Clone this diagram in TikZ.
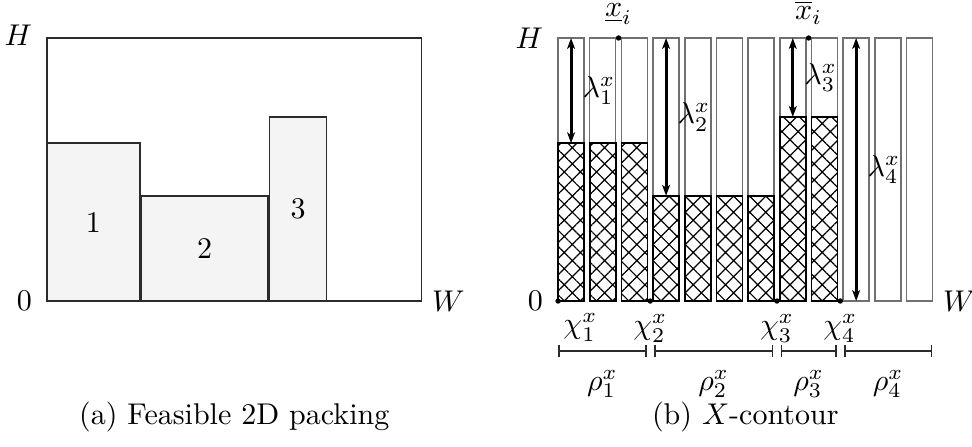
\documentclass[tikz,border=0pt]{standalone}
\usepackage{amsmath,amssymb}
\usetikzlibrary{arrows.meta,patterns.meta,positioning}
\definecolor{pkInk}{HTML}{2B2B2B}
\definecolor{pkFill}{HTML}{F4F4F4}
\definecolor{pkMid}{HTML}{707070}
\tikzset{
 packing/.style={line join=miter,text=black},
 binbox/.style={draw=pkInk,line width=.6pt},
 itembox/.style={draw=pkInk,fill=pkFill,line width=.6pt},
 colbox/.style={draw=pkMid,line width=.5pt},
 hatchbox/.style={draw=black,line width=.6pt,pattern={Hatch[angle=45,distance=3.8pt,line width=.4pt]}},
 gaparrow/.style={draw=black,line width=1pt,arrows={Stealth[length=3.6pt,width=2.6pt,inset=.9pt]-Stealth[length=3.6pt,width=2.6pt,inset=.9pt]}},
 rangebar/.style={draw=pkInk,line width=.6pt,arrows={Bar[width=4pt]-Bar[width=4pt]}},
 dotnode/.style={circle,fill=black,inner sep=0pt,minimum size=1.8pt},
 captext/.style={anchor=base}
}

\begin{document}
\begin{tikzpicture}[packing,x=10.4pt,y=8.7667pt]
 \useasboundingbox (-1.506,-5.513) rectangle (29.647,11.445);
 % (a) feasible packing
 \begin{scope}
  \draw[itembox] (0,0) rectangle (2.97,6);
  \draw[itembox] (3.01,0) rectangle (7.09,4);
  \draw[itembox] (7.13,0) rectangle (8.96,7);
  \draw[binbox] (0,0) rectangle (12,10);
  \node (it1) at (1.485,3) {1};
  \node (it2) at (5.05,2) {2};
  \node (it3) at (8.045,3.5) {3};
  \node[left=1.5pt,yshift=1pt] (aH) at (0,10) {$H$};
  \node[left=1.5pt] (a0) at (0,0) {$0$};
  \node[right] (aW) at (12,0) {$W$};
  \node[captext] (capa) at (6,-4.71) {(a) Feasible 2D packing};
 \end{scope}
 % (b) X-contour
 \begin{scope}[shift={(16.38,0)}]
  \foreach \h [count=\i from 0] in {6,6,6,4,4,4,4,7,7,0,0,0}{
   \pgfmathsetmacro\xl{1.0152*\i}
   \draw[colbox] (\xl,0) rectangle ++(.833,10);
   \ifnum\h>0 \draw[hatchbox] (\xl,0) rectangle ++(.833,\h); \fi
   \coordinate (top\i) at (\xl+.4165,10);
   \coordinate (low\i) at (\xl+.4165,\h);
  }
  \draw[gaparrow] (top0) -- (low0) node[midway,right] (lam1) {$\lambda^x_1$};
  \draw[gaparrow] (top3) -- (low3) node[midway,right] (lam2) {$\lambda^x_2$};
  \draw[gaparrow] (top7) -- (low7) node[midway,right] (lam3) {$\lambda^x_3$};
  \draw[gaparrow] (top9) -- (low9) node[midway,right] (lam4) {$\lambda^x_4$};
  \node[dotnode] (xlo) at (1.9393,10) {};
  \node[dotnode] (xhi) at (8.0305,10) {};
  \node[above=0pt of xlo] (xlolab) {$\underline{x}_i$};
  \node[above=0pt of xhi] (xhilab) {$\overline{x}_i$};
  \node[dotnode] (chi1) at (0,0) {};
  \node[dotnode] (chi2) at (2.9545,0) {};
  \node[dotnode] (chi3) at (7.0153,0) {};
  \node[dotnode] (chi4) at (9.0457,0) {};
  \node[below right=0pt and -2.5pt of chi1] (chi1lab) {$\chi^x_1$};
  \node[below=0pt of chi2] (chi2lab) {$\chi^x_2$};
  \node[below=0pt of chi3] (chi3lab) {$\chi^x_3$};
  \node[below=0pt of chi4] (chi4lab) {$\chi^x_4$};
  \coordinate (e0) at (0,-1.89);
  \coordinate (e1) at (2.9545,-1.89);
  \coordinate (e2) at (7.0153,-1.89);
  \coordinate (e3) at (9.0457,-1.89);
  \coordinate (e4) at (12,-1.89);
  \draw[rangebar] (e0) -- ([xshift=-1.2pt]e1) node[midway,below=3pt] (rho1) {$\rho^x_1$};
  \draw[rangebar] ([xshift=1.2pt]e1) -- ([xshift=-1.2pt]e2) node[midway,below=3pt] (rho2) {$\rho^x_2$};
  \draw[rangebar] ([xshift=1.2pt]e2) -- ([xshift=-1.2pt]e3) node[midway,below=3pt] (rho3) {$\rho^x_3$};
  \draw[rangebar] ([xshift=1.2pt]e3) -- (e4) node[midway,below=3pt] (rho4) {$\rho^x_4$};
  \node[left=1.5pt] (bH) at (0,10) {$H$};
  \node[left=1.5pt] (b0) at (0,0) {$0$};
  \node[right] (bW) at (12,0) {$W$};
  \node[captext] (capb) at (6,-4.71) {(b) $X$-contour};
 \end{scope}
\end{tikzpicture}
\end{document}
